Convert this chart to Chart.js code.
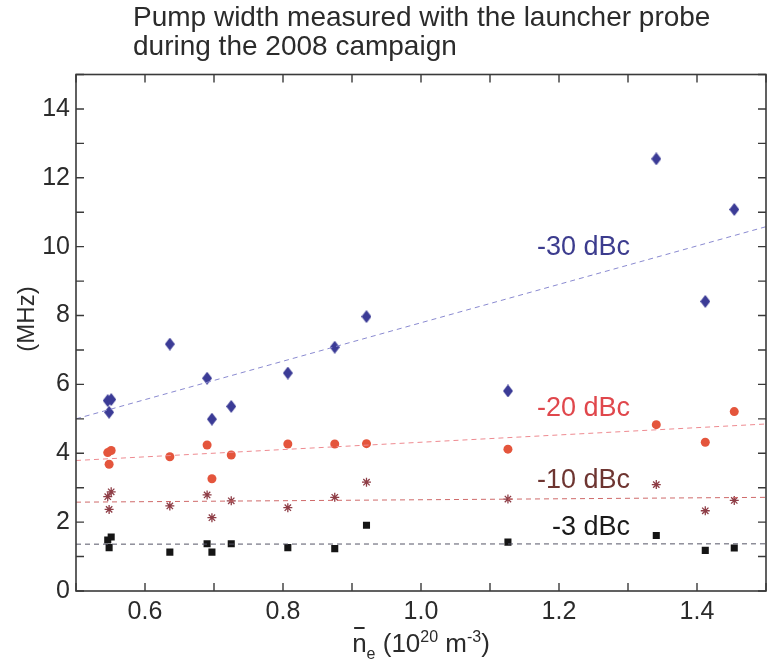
<!DOCTYPE html>
<html>
<head>
<meta charset="utf-8">
<script src="https://cdn.jsdelivr.net/npm/chart.js@4.4.1/dist/chart.umd.min.js"></script>
<style>
html, body { margin: 0; padding: 0; background: #fff; overflow: hidden; }
#wrap { width: 769px; height: 671px; overflow: hidden; }
</style>
</head>
<body>
<div id="wrap"><canvas id="pumpChart" width="773" height="671"></canvas></div>
<script>
// line-averaged density, 10^20 m^-3
const density = [0.546, 0.551, 0.548, 0.636, 0.690, 0.697, 0.725, 0.807, 0.875, 0.921, 1.126, 1.341, 1.412, 1.454];
// pump width (MHz) at each level
const width30 = [5.53, 5.56, 5.19, 7.17, 6.18, 4.99, 5.36, 6.33, 7.08, 7.97, 5.81, 12.55, 8.41, 11.08];
const width20 = [4.02, 4.08, 3.68, 3.90, 4.24, 3.26, 3.95, 4.27, 4.27, 4.28, 4.12, 4.83, 4.32, 5.21];
const width10 = [2.74, 2.88, 2.37, 2.47, 2.79, 2.13, 2.62, 2.42, 2.72, 3.16, 2.67, 3.09, 2.33, 2.63];
const width3  = [1.48, 1.57, 1.26, 1.13, 1.37, 1.13, 1.37, 1.26, 1.23, 1.91, 1.42, 1.61, 1.18, 1.25];

// linear fits (end points)
const fitX  = [0.5, 1.5];
const fit30 = [5.0, 10.58];
const fit20 = [3.79, 4.85];
const fit10 = [2.58, 2.72];
const fit3  = [1.36, 1.37];

const levelNames = ['-30 dBc', '-20 dBc', '-10 dBc', '-3 dBc'];

const FONT = "'Liberation Sans', Arial, Helvetica, sans-serif";
const BLUE = '#3b3b96';
const RED = '#e4553c';
const BROWN = '#8e3d46';
const BLACK = '#151515';

function pts(xs, ys) {
    return xs.map((x, i) => ({ x: x, y: ys[i] }));
}

function diamond(w, h, color) {
    const c = document.createElement('canvas');
    c.width = w; c.height = h;
    const g = c.getContext('2d');
    g.fillStyle = color;
    g.beginPath();
    g.moveTo(w / 2, 0); g.lineTo(w, h / 2); g.lineTo(w / 2, h); g.lineTo(0, h / 2);
    g.closePath();
    g.fill();
    return c;
}

function fitLine(ys, color) {
    return {
        type: 'line', data: pts(fitX, ys), borderColor: color, borderWidth: 1,
        borderDash: [5, 4], pointRadius: 0, fill: false
    };
}

// text labels next to the fits, anchored in data units (right edge)
const notes = [
    { text: levelNames[0], x: 1.30, y: 9.97, color: '#3c3c8e' },
    { text: levelNames[1], x: 1.30, y: 5.30, color: '#e0474c' },
    { text: levelNames[2], x: 1.30, y: 3.21, color: '#6e3531' },
    { text: levelNames[3], x: 1.30, y: 1.83, color: '#1a1a1a' }
];

const decor = {
    id: 'decor',
    afterDatasetsDraw(chart) {
        const ctx = chart.ctx;
        const a = chart.chartArea;
        const xs = chart.scales.x, ys = chart.scales.y;
        ctx.save();
        ctx.strokeStyle = '#3a3a3a';
        ctx.lineWidth = 1.6;
        ctx.strokeRect(a.left, a.top, a.right - a.left, a.bottom - a.top);
        ctx.lineWidth = 1.4;
        ctx.beginPath();
        xs.ticks.forEach(t => {
            const px = xs.getPixelForValue(t.value);
            ctx.moveTo(px, a.bottom); ctx.lineTo(px, a.bottom - 8);
            ctx.moveTo(px, a.top); ctx.lineTo(px, a.top + 8);
        });
        ys.ticks.forEach(t => {
            const py = ys.getPixelForValue(t.value);
            ctx.moveTo(a.left, py); ctx.lineTo(a.left + 8, py);
            ctx.moveTo(a.right, py); ctx.lineTo(a.right - 8, py);
        });
        ctx.stroke();

        // fit labels
        ctx.font = '27px ' + FONT;
        ctx.textAlign = 'right';
        ctx.textBaseline = 'middle';
        notes.forEach(n => {
            ctx.fillStyle = n.color;
            ctx.fillText(n.text, xs.getPixelForValue(n.x) + 2, ys.getPixelForValue(n.y));
        });
        ctx.restore();
    },
    afterDraw(chart) {
        const ctx = chart.ctx;
        ctx.save();
        ctx.fillStyle = '#2b2b2b';
        ctx.textBaseline = 'alphabetic';
        ctx.textAlign = 'left';
        ctx.font = '28px ' + FONT;
        ctx.fillText('Pump width measured with the launcher probe', 133, 26);
        ctx.fillText('during the 2008 campaign', 133, 55);

        // y title
        ctx.save();
        ctx.translate(34, 319);
        ctx.rotate(-Math.PI / 2);
        ctx.textAlign = 'center';
        ctx.font = '24px ' + FONT;
        ctx.fillText('(MHz)', 0, 0);
        ctx.restore();

        // x title: n-bar_e (10^20 m^-3)
        const big = '26px ' + FONT, small = '16px ' + FONT;
        const parts = [
            ['n', big, 0], ['e', small, 7], [' (10', big, 0], ['20', small, -10],
            [' m', big, 0], ['-3', small, -10], [')', big, 0]
        ];
        let total = 0;
        parts.forEach(p => { ctx.font = p[1]; total += ctx.measureText(p[0]).width; });
        let x = 421 - total / 2;
        const base = 652;
        parts.forEach((p, i) => {
            ctx.font = p[1];
            ctx.fillText(p[0], x, base + p[2]);
            if (i === 0) {
                const w = ctx.measureText('n').width;
                ctx.fillRect(x + 2, base - 25, w - 4, 2);
            }
            x += ctx.measureText(p[0]).width;
        });
        ctx.restore();
    }
};

const ctx = document.getElementById('pumpChart').getContext('2d');
new Chart(ctx, {
    type: 'scatter',
    data: {
        datasets: [
            fitLine(fit30, '#8a8ad0'),
            fitLine(fit20, '#ee8a90'),
            fitLine(fit10, '#cf6a6a'),
            fitLine(fit3, '#555566'),
            {
                label: levelNames[0], data: pts(density, width30),
                pointStyle: diamond(10, 13, BLUE), pointRadius: 6
            },
            {
                label: levelNames[1], data: pts(density, width20),
                pointStyle: 'circle', pointRadius: 4.5,
                backgroundColor: RED, borderColor: RED, borderWidth: 0
            },
            {
                label: levelNames[2], data: pts(density, width10),
                pointStyle: 'star', pointRadius: 4.5,
                backgroundColor: '#e6a0a8', borderColor: BROWN, borderWidth: 1.3
            },
            {
                label: levelNames[3], data: pts(density, width3),
                pointStyle: 'rect', pointRadius: 5,
                backgroundColor: BLACK, borderColor: BLACK, borderWidth: 0
            }
        ]
    },
    options: {
        responsive: false,
        animation: false,
        devicePixelRatio: 1,
        layout: { padding: { top: 74.5, right: 1, left: 0, bottom: 0 } },
        plugins: {
            legend: { display: false },
            tooltip: { enabled: false }
        },
        scales: {
            x: {
                type: 'linear', min: 0.5, max: 1.5,
                grid: { display: false, drawTicks: false },
                border: { display: false },
                afterFit: s => { s.height = 80; },
                ticks: {
                    stepSize: 0.1, autoSkip: false, padding: 6, color: '#2b2b2b',
                    font: { family: FONT, size: 25 },
                    callback: v => (Math.round(v * 10) % 2 === 0 ? v.toFixed(1) : '')
                }
            },
            y: {
                type: 'linear', min: 0, max: 15,
                grid: { display: false, drawTicks: false },
                border: { display: false },
                afterFit: s => { s.width = 76; },
                ticks: {
                    stepSize: 1, autoSkip: false, padding: 6, color: '#2b2b2b',
                    font: { family: FONT, size: 25 },
                    callback: v => (v % 2 === 0 && v < 15 ? String(v) : '')
                }
            }
        }
    },
    plugins: [decor]
});
</script>
</body>
</html>
